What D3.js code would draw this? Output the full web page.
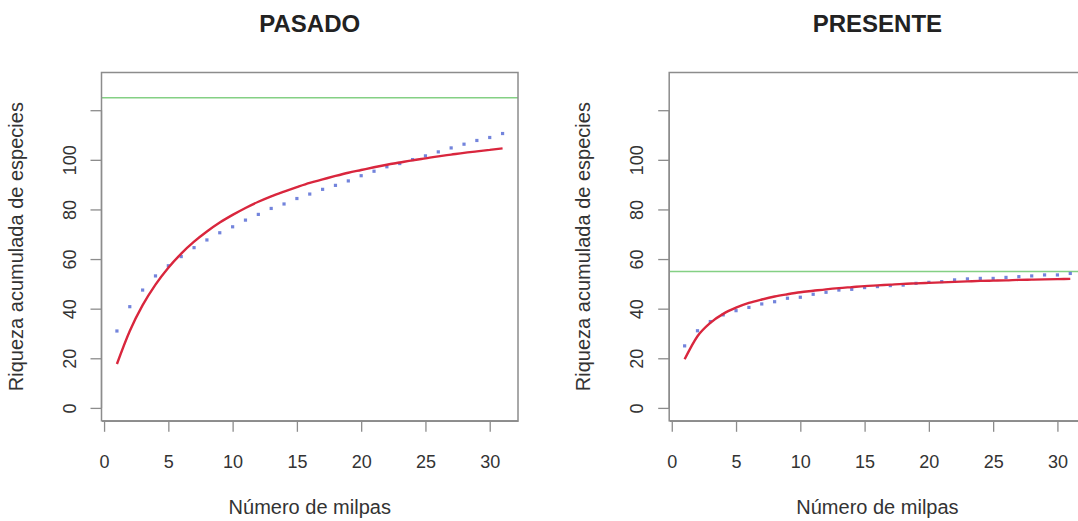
<!DOCTYPE html>
<meta charset="utf-8">
<style>
body { margin: 0; background: #fff; }
svg { display: block; }
text { font-family: 'Liberation Sans', Arial, sans-serif; }
.frame { fill: none; stroke: #8c8c8c; stroke-width: 1.5; }
.axis path, .axis line { stroke: #8c8c8c; stroke-width: 1.3; }
.axis text { fill: #333; font-size: 18px; font-family: 'Liberation Sans', Arial, sans-serif; }
.title { font-size: 24px; font-weight: bold; fill: #222; }
.lab { font-size: 20px; fill: #333; }
.fit { fill: none; stroke: #d9263d; stroke-width: 2.4; }
.asym { stroke: #84d084; stroke-width: 1.5; }
.obs { fill: #5b6fd6; opacity: .85; }
</style>
<body>
<script src="https://d3js.org/d3.v7.min.js"></script>
<script>

var width = 1078,
    height = 521;

// milpas sampled
var milpas = d3.range(1, 32);

// PASADO
var pasadoObs = [31.0, 40.8, 47.5, 53.2, 57.3, 61.0, 64.6, 67.7, 70.6, 73.0,
                 75.7, 78.0, 80.4, 82.2, 84.4, 86.2, 88.1, 89.7, 91.5, 93.6,
                 95.4, 97.2, 98.5, 100.1, 101.6, 103.2, 104.8, 106.3, 107.8, 109.0, 110.6];
var pasadoFit = [17.7, 31.0, 41.4, 49.7, 56.5, 62.2, 67.0, 71.1, 74.7, 77.8,
                 80.6, 83.1, 85.3, 87.2, 89.0, 90.7, 92.1, 93.5, 94.8, 95.9,
                 97.0, 98.0, 98.9, 99.8, 100.6, 101.4, 102.1, 102.8, 103.4, 104.0, 104.6];
var pasadoAsym = 125;

// PRESENTE
var presenteObs = [25.0, 31.1, 34.8, 37.5, 39.2, 40.5, 41.9, 42.8, 44.2, 44.6,
                   45.8, 46.6, 47.5, 47.8, 48.5, 48.9, 49.3, 49.5, 50.2, 50.6,
                   50.9, 51.6, 52.0, 52.2, 52.2, 52.6, 52.9, 53.2, 53.6, 53.6, 54.2];
var presenteFit = [19.6, 28.9, 34.3, 37.9, 40.4, 42.3, 43.7, 44.9, 45.8, 46.6,
                   47.2, 47.8, 48.3, 48.7, 49.1, 49.4, 49.7, 50.0, 50.2, 50.4,
                   50.6, 50.8, 51.0, 51.2, 51.3, 51.4, 51.6, 51.7, 51.8, 51.9, 52.0];
var presenteAsym = 55;

var xTicks = [0, 5, 10, 15, 20, 25, 30];
var yTicks = [0, 20, 40, 60, 80, 100, 120];
var yLabels = ["0", "20", "40", "60", "80", "100", ""];

var panels = [
  {title: "PASADO", obs: pasadoObs, fit: pasadoFit, asym: pasadoAsym, left: 101.5},
  {title: "PRESENTE", obs: presenteObs, fit: presenteFit, asym: presenteAsym, left: 669.2}
];

var plotTop = 72.5, plotBottom = 420.8, plotW = 416.5;

var svg = d3.select("body").append("svg")
    .attr("width", width)
    .attr("height", height);

panels.forEach(function(p, i) {
  var x = d3.scaleLinear().domain([-0.2, 32.2]).range([p.left, p.left + plotW]);
  var y = d3.scaleLinear().domain([-5.2, 135.2]).range([plotBottom, plotTop]);
  var g = svg.append("g");

  g.append("clipPath").attr("id", "clip" + i)
    .append("rect")
      .attr("x", x.range()[0]).attr("y", plotTop)
      .attr("width", plotW).attr("height", plotBottom - plotTop);

  var plot = g.append("g").attr("clip-path", "url(#clip" + i + ")");

  plot.append("line")
      .attr("class", "asym")
      .attr("x1", x.range()[0]).attr("x2", x.range()[1])
      .attr("y1", y(p.asym)).attr("y2", y(p.asym));

  plot.selectAll(".obs").data(p.obs)
    .enter().append("rect")
      .attr("class", "obs")
      .attr("x", function(d, j) { return x(milpas[j]) - 1.6; })
      .attr("y", function(d) { return y(d) - 1.6; })
      .attr("width", 3.2)
      .attr("height", 3.2);

  var line = d3.line()
      .x(function(d, j) { return x(milpas[j]); })
      .y(function(d) { return y(d); })
      .curve(d3.curveMonotoneX);

  plot.append("path")
      .datum(p.fit)
      .attr("class", "fit")
      .attr("d", line);

  g.append("rect")
      .attr("class", "frame")
      .attr("x", x.range()[0]).attr("y", plotTop)
      .attr("width", plotW).attr("height", plotBottom - plotTop);

  g.append("g")
      .attr("class", "axis")
      .attr("transform", "translate(0," + plotBottom + ")")
      .call(d3.axisBottom(x).tickValues(xTicks).tickSize(11).tickPadding(36).tickSizeOuter(0))
    .selectAll("text")
      .attr("dy", "0");

  var ya = g.append("g")
      .attr("class", "axis")
      .attr("transform", "translate(" + x.range()[0] + ",0)")
      .call(d3.axisLeft(y).tickValues(yTicks).tickSize(11).tickSizeOuter(0)
        .tickFormat(function(d, j) { return yLabels[j]; }));
  ya.select(".domain").attr("d", "M0," + y(0) + "V" + y(120));
  ya.selectAll("text")
      .attr("x", null).attr("dy", null)
      .attr("transform", "translate(-26,0) rotate(-90)")
      .attr("text-anchor", "middle");

  var cx = x.range()[0] + plotW / 2;

  g.append("text")
      .attr("class", "title")
      .attr("x", cx).attr("y", 32)
      .attr("text-anchor", "middle")
      .text(p.title);

  g.append("text")
      .attr("class", "lab")
      .attr("x", cx).attr("y", 514)
      .attr("text-anchor", "middle")
      .text("Número de milpas");

  g.append("text")
      .attr("class", "lab")
      .attr("transform", "translate(" + (x.range()[0] - 79) + "," + ((plotTop + plotBottom) / 2) + ") rotate(-90)")
      .attr("text-anchor", "middle")
      .text("Riqueza acumulada de especies");
});

</script>
